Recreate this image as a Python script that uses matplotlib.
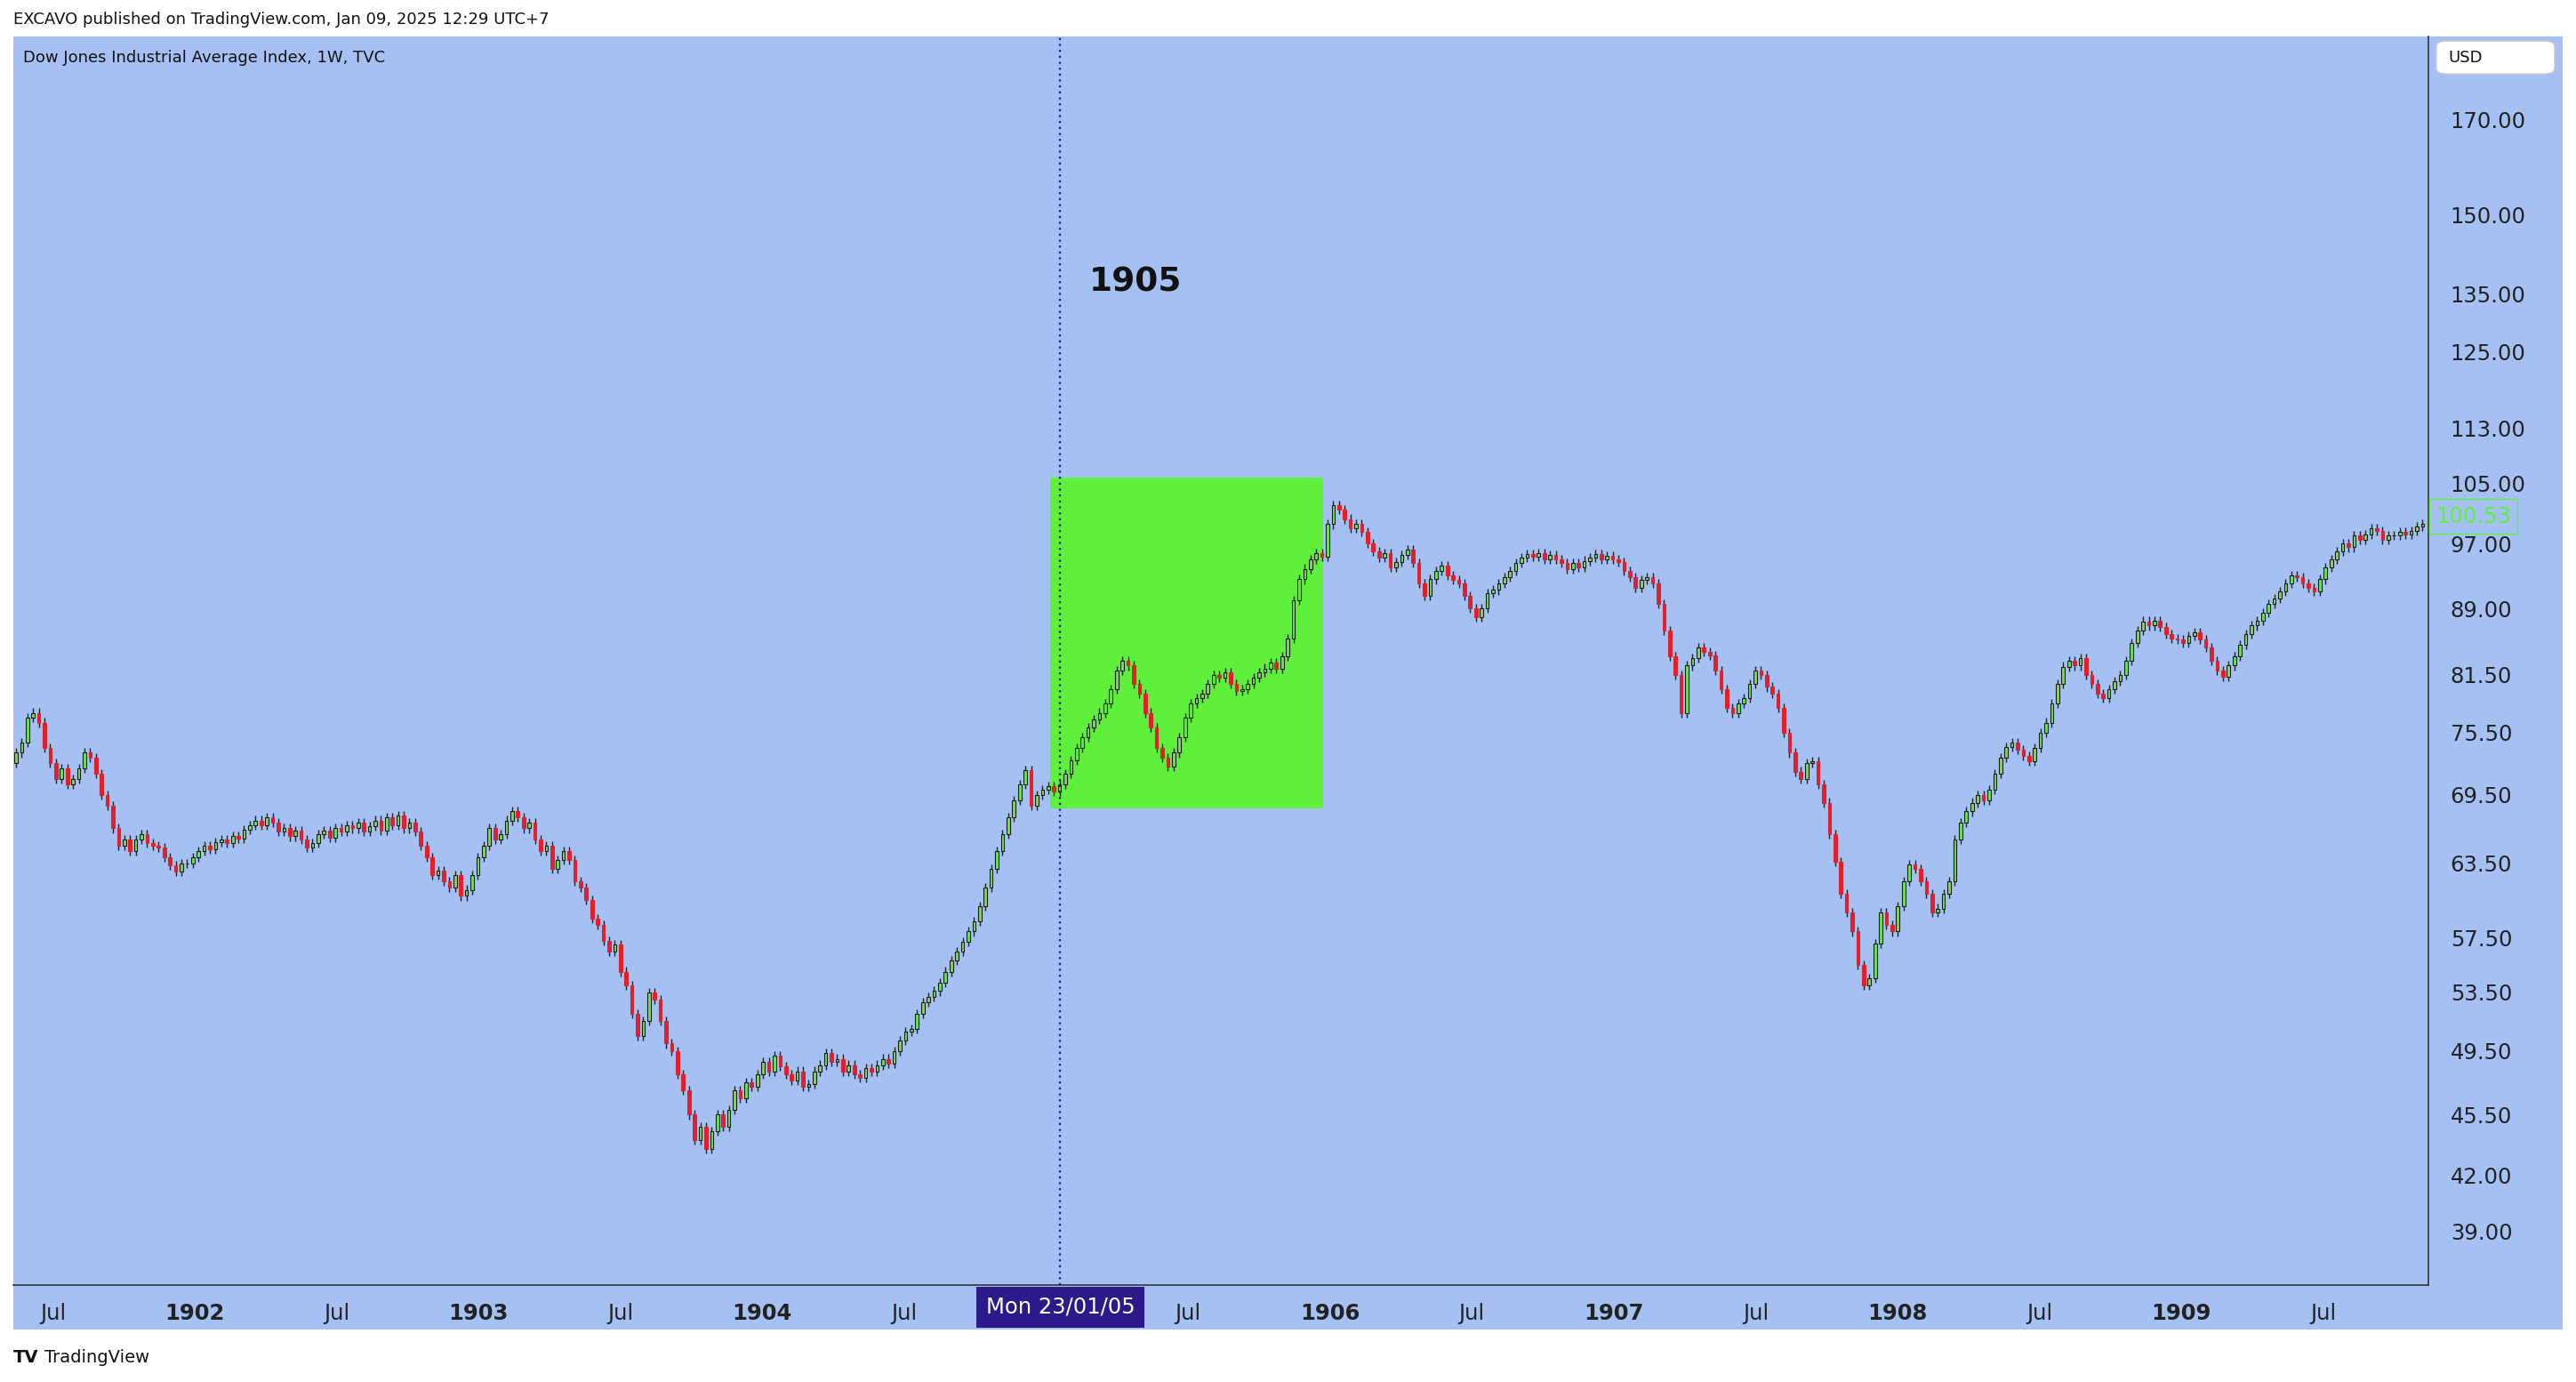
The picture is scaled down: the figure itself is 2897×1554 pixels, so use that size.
import numpy as np
import matplotlib.pyplot as plt
from matplotlib.patches import Rectangle, FancyBboxPatch
from matplotlib.ticker import FixedLocator, NullLocator

# weekly closes, Dow Jones 1901-1909
closes_1901 = [73.5, 74.5, 77, 77.5, 76.5, 74, 72.5, 71, 72, 70.5, 71, 72, 73.5, 73,
               71.5, 69.5, 68.5, 66.5, 65, 65.5, 64.5, 65.5, 66, 65.2, 65,
               64.8, 64, 63.3, 62.8, 63.5, 63.5]
closes_1902 = [64, 64.5, 65, 64.7, 65.3, 65.5, 65.2, 65.8, 65.6, 66.4, 66.8, 67.2,
               66.8, 67.5, 67, 66.2, 66.5, 65.8, 66.3, 65.5, 64.8, 65.2, 66, 66.3, 65.7, 66.5,
               66.2, 66.8, 66.5, 67, 66.2, 66.7, 67.2, 66.3, 67.5, 66.8, 67.6, 66.5, 67,
               66.2, 65, 64, 62.5, 62.9, 62, 61.5, 62.5, 60.8, 61.3, 62.5, 64, 65]
closes_1903 = [66.5, 65.5, 66, 67.2, 68, 67.5, 66.5, 67, 65.5, 64.5, 65, 63, 63.8, 64.5,
               63.8, 62, 61.5, 60.5, 59, 58.5, 57.3, 56.5, 57, 55, 54, 52, 50.5,
               51.5, 53.5, 53, 51.5, 50, 49.5, 48, 47, 45.5, 44, 44.8, 43.5,
               44.5, 45.5, 44.8, 45.8, 47, 46.5, 47.5, 47.2, 48, 48.8, 48.2, 49.2]
closes_1904 = [48.5, 48, 47.6, 48.2, 47.2, 47.4, 48.2, 48.6, 49.4, 48.8, 49, 48.2,
               48.6, 48, 47.8, 48.4, 48.2, 48.6, 49, 48.7, 49.5, 50.2, 50.8, 51,
               52, 52.8, 53.2, 53.6, 54.2, 55, 55.8, 56.5, 57.2, 58, 58.8, 60,
               61.5, 63, 64.5, 66, 67.5, 69, 70.5, 71.8, 68.5, 69.5, 70, 70.3, 69.8]
closes_1905 = [70.5, 71.5, 72.8, 74, 75, 76, 76.8, 77.5, 78.5, 80, 82, 83,
               82.5, 80.5, 79.5, 77.5, 76, 74, 73, 72.2, 73.5, 75, 77, 78.5, 79,
               79.5, 80.5, 81.5, 81.2, 81.8, 80.5, 79.8, 80, 80.5, 81.2, 81.8, 82.2,
               82.8, 82.2, 83.5, 85.5, 90, 92.5, 93.8, 95, 95.8, 95.3]
closes_1906 = [99.5, 102, 101.5, 100.2, 99, 99.6, 98.5, 97, 96, 95.2, 95.8, 94,
               94.6, 95.5, 96.2, 94.5, 92, 90.5, 92.5, 93.5, 94.2, 93, 92.4, 92,
               90.5, 89, 88, 89, 90.8, 91.2, 92, 92.8, 93.5, 94.5, 95.2, 95.6, 95.3,
               95.8, 95, 95.5, 95, 94.5, 93.8, 94.5, 94, 94.8, 95.2, 95.6, 95,
               95.4, 95, 94.6]
closes_1907 = [93.5, 92.8, 91.5, 92.4, 92.8, 92, 89.5, 86.4, 83.5, 81.5,
               77.5, 82.5, 83.3, 84.5, 84, 83.6, 82, 80, 78, 77.5, 78.5, 79,
               80.5, 82, 81.5, 80.2, 79.5, 78, 75.5, 73.5, 71.7, 71, 72.5, 72.7,
               70.5, 68.8, 66, 63.6, 61, 59.5, 58, 55.5, 54, 54.5, 57.1,
               59.5, 58.5, 58, 60, 62, 63.4]
closes_1908 = [63, 62, 61, 59.5, 59.8, 61, 62, 65.5, 67, 68, 68.8, 69.5, 69, 70,
               71.5, 73, 74.1, 74.5, 73.8, 73.2, 72.7, 74, 75.5, 76.5, 78.5, 80.5, 82.4,
               83, 82.5, 83.3, 81.5, 80.5, 79.5, 79, 80, 80.8, 81.5, 83, 85, 86.4,
               87.5, 87, 87.6, 86.8, 86, 85.5, 85.4, 85, 85.8, 86.2, 85.4]
closes_1909 = [84.5, 83, 82, 81.3, 82.5, 83.5, 84.8, 86, 87, 87.6,
               88.5, 89.5, 90.2, 91, 92, 93, 92.8, 92, 91.5, 91, 92.5, 94, 95,
               96, 97, 96.5, 98, 97.5, 98.2, 99, 98.6, 97.5, 98, 98, 98.5, 98.2, 98.6,
               99.2, 99.5]

closes = np.array(closes_1901 + closes_1902 + closes_1903 + closes_1904 + closes_1905
                  + closes_1906 + closes_1907 + closes_1908 + closes_1909)
opens = np.concatenate([[72.5], closes[:-1]])

price_ticks = [39.00, 42.00, 45.50, 49.50, 53.50, 57.50, 63.50, 69.50, 75.50, 81.50,
               89.00, 97.00, 105.00, 113.00, 125.00, 135.00, 150.00, 170.00]
x_ticks = [1901.5, 1902, 1902.5, 1903, 1903.5, 1904, 1904.5, 1905.5, 1906, 1906.5,
           1907, 1907.5, 1908, 1908.5, 1909, 1909.5]
x_labels = ['Jul', '1902', 'Jul', '1903', 'Jul', '1904', 'Jul', 'Jul', '1906', 'Jul',
            '1907', 'Jul', '1908', 'Jul', '1909', 'Jul']
last_price = 100.53

BG = '#a5c1f3'
W, H = 1568, 842  # layout units (display px of the reference)

fig = plt.figure(figsize=(28.97, 15.54), dpi=100)
fig.patch.set_facecolor('white')

# blue panel behind axes + scales
fig.patches.append(Rectangle((8 / W, 1 - 810 / H), (1560 - 8) / W, (810 - 22) / H,
                             transform=fig.transFigure, facecolor=BG, edgecolor='none', zorder=-5))
# USD selector box
fig.patches.append(FancyBboxPatch((1483 / W, 1 - 45 / H), 72 / W, 20 / H,
                                  boxstyle='round,pad=0,rounding_size=0.004',
                                  transform=fig.transFigure, facecolor='white',
                                  edgecolor='#cccccc', zorder=5))
fig.text(1490 / W, 1 - 35 / H, 'USD', ha='left', va='center', fontsize=13, color='#111111',
         zorder=6)

ax = fig.add_axes([8 / W, 1 - 783 / H, (1478 - 8) / W, (783 - 22) / H])
ax.set_zorder(2)
ax.set_facecolor(BG)
ax.set_yscale('log')
ax.set_xlim(1901.36, 1909.87)
ax.set_ylim(36.3, 190)

x = np.linspace(1901.37, 1909.85, len(closes))
up = closes >= opens
bw = 0.0115
hi = np.maximum(opens, closes) * 1.006
lo = np.minimum(opens, closes) * 0.994
ax.vlines(x, lo, hi, color='#222222', lw=1.0, zorder=3)
ax.bar(x[up], closes[up] - opens[up], bottom=opens[up], width=bw,
       color='#6fe24a', edgecolor='#1a1a1a', lw=0.8, zorder=4)
ax.bar(x[~up], opens[~up] - closes[~up], bottom=closes[~up], width=bw,
       color='#e0202a', edgecolor='#e0202a', lw=0.8, zorder=4)

# highlighted 1905 box
ax.add_patch(Rectangle((1905.015, 68.3), 0.96, 105.9 - 68.3,
                       facecolor='#5ef03a', edgecolor='none', zorder=2))
ax.axvline(1905.05, color='#1a1a8a', ls=(0, (1, 2)), lw=1.6, zorder=5)
ax.text(1905.15, 135.5, '1905', fontsize=27, fontweight='bold', color='#111111', zorder=6)

ax.yaxis.tick_right()
ax.yaxis.set_major_locator(FixedLocator(price_ticks))
ax.yaxis.set_minor_locator(NullLocator())
ax.set_yticklabels([f'{v:.2f}' for v in price_ticks])
ax.xaxis.set_major_locator(FixedLocator(x_ticks))
ax.set_xticklabels(x_labels)
for t, lab in zip(ax.get_xticklabels(), x_labels):
    if lab.isdigit():
        t.set_fontweight('bold')
ax.tick_params(axis='both', length=0, labelsize=17.5, colors='#222222')
ax.tick_params(axis='y', pad=18)
ax.tick_params(axis='x', pad=14)
for s in ['top', 'left']:
    ax.spines[s].set_visible(False)
ax.spines['right'].set_color('#333333')
ax.spines['bottom'].set_color('#333333')
ax.spines['right'].set_linewidth(1.2)
ax.spines['bottom'].set_linewidth(1.2)

# crosshair label on x axis
ax.text(1905.05, 36.3 * 0.985, 'Mon 23/01/05', transform=ax.transData, ha='center', va='top',
        fontsize=17.5, color='white', clip_on=False,
        bbox=dict(boxstyle='square,pad=0.45', facecolor='#2c1a8c', edgecolor='none'))

# last price label
ax.text(1.003, last_price, f'{last_price:.2f}', transform=ax.get_yaxis_transform(),
        ha='left', va='center', fontsize=17.5, color='#5ef03a', clip_on=False,
        bbox=dict(boxstyle='square,pad=0.3', facecolor=BG, edgecolor='#5ef03a', lw=1))

fig.text(14 / W, 1 - 35 / H, 'Dow Jones Industrial Average Index, 1W, TVC',
         ha='left', va='center', fontsize=13, color='#111111')
fig.text(8 / W, 1 - 12 / H, 'EXCAVO published on TradingView.com, Jan 09, 2025 12:29 UTC+7',
         ha='left', va='center', fontsize=13, color='#111111')
fig.text(8 / W, 1 - 827 / H, 'TV', ha='left', va='center', fontsize=14, fontweight='bold',
         color='#111111')
fig.text(27 / W, 1 - 827 / H, 'TradingView', ha='left', va='center', fontsize=14,
         color='#111111')

fig.savefig('out.png', dpi=100, facecolor='white')
